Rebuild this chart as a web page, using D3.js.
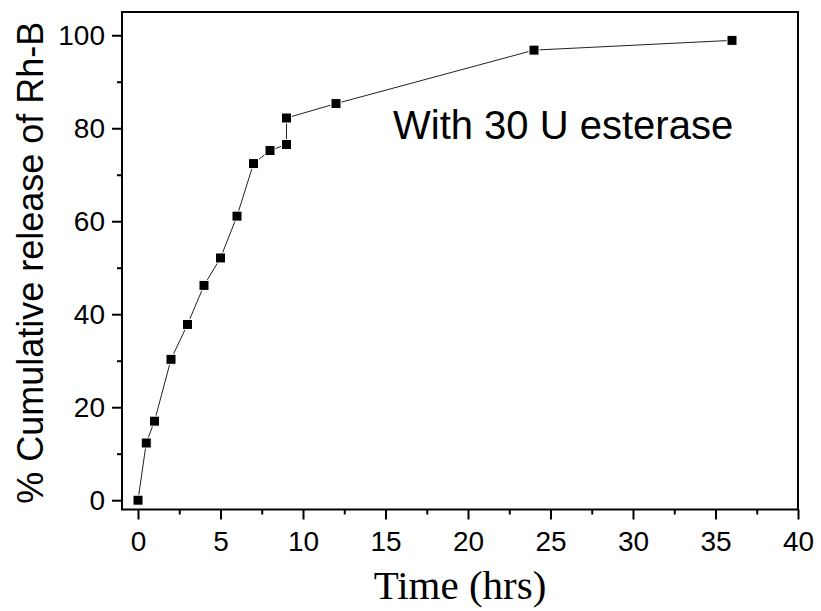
<!DOCTYPE html>
<html>
<head>
<meta charset="utf-8">
<script src="https://cdn.jsdelivr.net/npm/d3@7"></script>
<style>
  html, body { margin: 0; padding: 0; background: #fff; }
  svg { display: block; }
</style>
</head>
<body>
<svg id="chart" width="821" height="611"></svg>
<script>
// Release time points (hours) and cumulative release of Rh-B (%)
const timeHrs = [0, 0.5, 1, 2, 3, 4, 5, 6, 7, 8, 9, 9, 12, 24, 36];
const releasePct = [0, 12.3, 17.0, 30.3, 37.8, 46.2, 52.1, 61.1, 72.4, 75.2, 76.5, 82.2, 85.3, 96.8, 98.9];

const xTicks = [0, 5, 10, 15, 20, 25, 30, 35, 40];
const xMinorTicks = [2.5, 7.5, 12.5, 17.5, 22.5, 27.5, 32.5, 37.5];
const yTicks = [0, 20, 40, 60, 80, 100];
const yMinorTicks = [10, 30, 50, 70, 90];

const xTitle = "Time (hrs)";
const yTitle = "% Cumulative release of Rh-B";
const annotation = "With 30 U esterase";

const svg = d3.select("#chart");
const plot = { left: 122, right: 798, top: 12, bottom: 509.5 };

const x = d3.scaleLinear().domain([-0.97, 40]).range([plot.left, plot.right]);
const y = d3.scaleLinear().domain([-2, 105]).range([plot.bottom, plot.top]);

const sans = '"Liberation Sans", Arial, sans-serif';
const serif = '"Liberation Serif", "Times New Roman", serif';

// Bottom axis: major ticks with labels, minor ticks without
svg.append("g")
  .attr("transform", `translate(0,${plot.bottom})`)
  .call(d3.axisBottom(x).tickValues(xTicks).tickFormat(d3.format("d")).tickSize(10).tickPadding(12));
svg.append("g")
  .attr("transform", `translate(0,${plot.bottom})`)
  .call(d3.axisBottom(x).tickValues(xMinorTicks).tickFormat("").tickSize(5));

// Left axis
svg.append("g")
  .attr("transform", `translate(${plot.left},0)`)
  .call(d3.axisLeft(y).tickValues(yTicks).tickFormat(d3.format("d")).tickSize(10).tickPadding(7));
svg.append("g")
  .attr("transform", `translate(${plot.left},0)`)
  .call(d3.axisLeft(y).tickValues(yMinorTicks).tickFormat("").tickSize(5));

svg.selectAll(".domain").remove();
svg.selectAll(".tick line").attr("stroke", "#000").attr("stroke-width", 2);
svg.selectAll(".tick text").attr("fill", "#000").attr("font-size", 28).attr("font-family", sans);

// Frame around the plot area
svg.append("rect")
  .attr("x", plot.left).attr("y", plot.top)
  .attr("width", plot.right - plot.left).attr("height", plot.bottom - plot.top)
  .attr("fill", "none").attr("stroke", "#000").attr("stroke-width", 2);

// Connecting line
const pts = timeHrs.map((t, i) => [t, releasePct[i]]);
svg.append("path")
  .datum(pts)
  .attr("fill", "none")
  .attr("stroke", "#222")
  .attr("stroke-width", 1)
  .attr("d", d3.line().x(d => x(d[0])).y(d => y(d[1])));

// Square markers
const ms = 10;
svg.append("g").selectAll("rect")
  .data(pts)
  .join("rect")
  .attr("x", d => x(d[0]) - ms / 2)
  .attr("y", d => y(d[1]) - ms / 2)
  .attr("width", ms).attr("height", ms)
  .attr("fill", "#000")
  .attr("stroke", "#fff")
  .attr("stroke-width", 1);

// Annotation
svg.append("text")
  .attr("x", 393).attr("y", 139)
  .attr("font-family", sans).attr("font-size", 40)
  .attr("fill", "#000")
  .text(annotation);

// Axis titles
svg.append("text")
  .attr("x", 460).attr("y", 599)
  .attr("text-anchor", "middle")
  .attr("font-family", serif).attr("font-size", 41)
  .attr("fill", "#000")
  .text(xTitle);

svg.append("text")
  .attr("transform", `translate(43,${(plot.top + plot.bottom) / 2 + 2}) rotate(-90)`)
  .attr("text-anchor", "middle")
  .attr("font-family", sans).attr("font-size", 36)
  .attr("fill", "#000")
  .text(yTitle);
</script>
</body>
</html>
